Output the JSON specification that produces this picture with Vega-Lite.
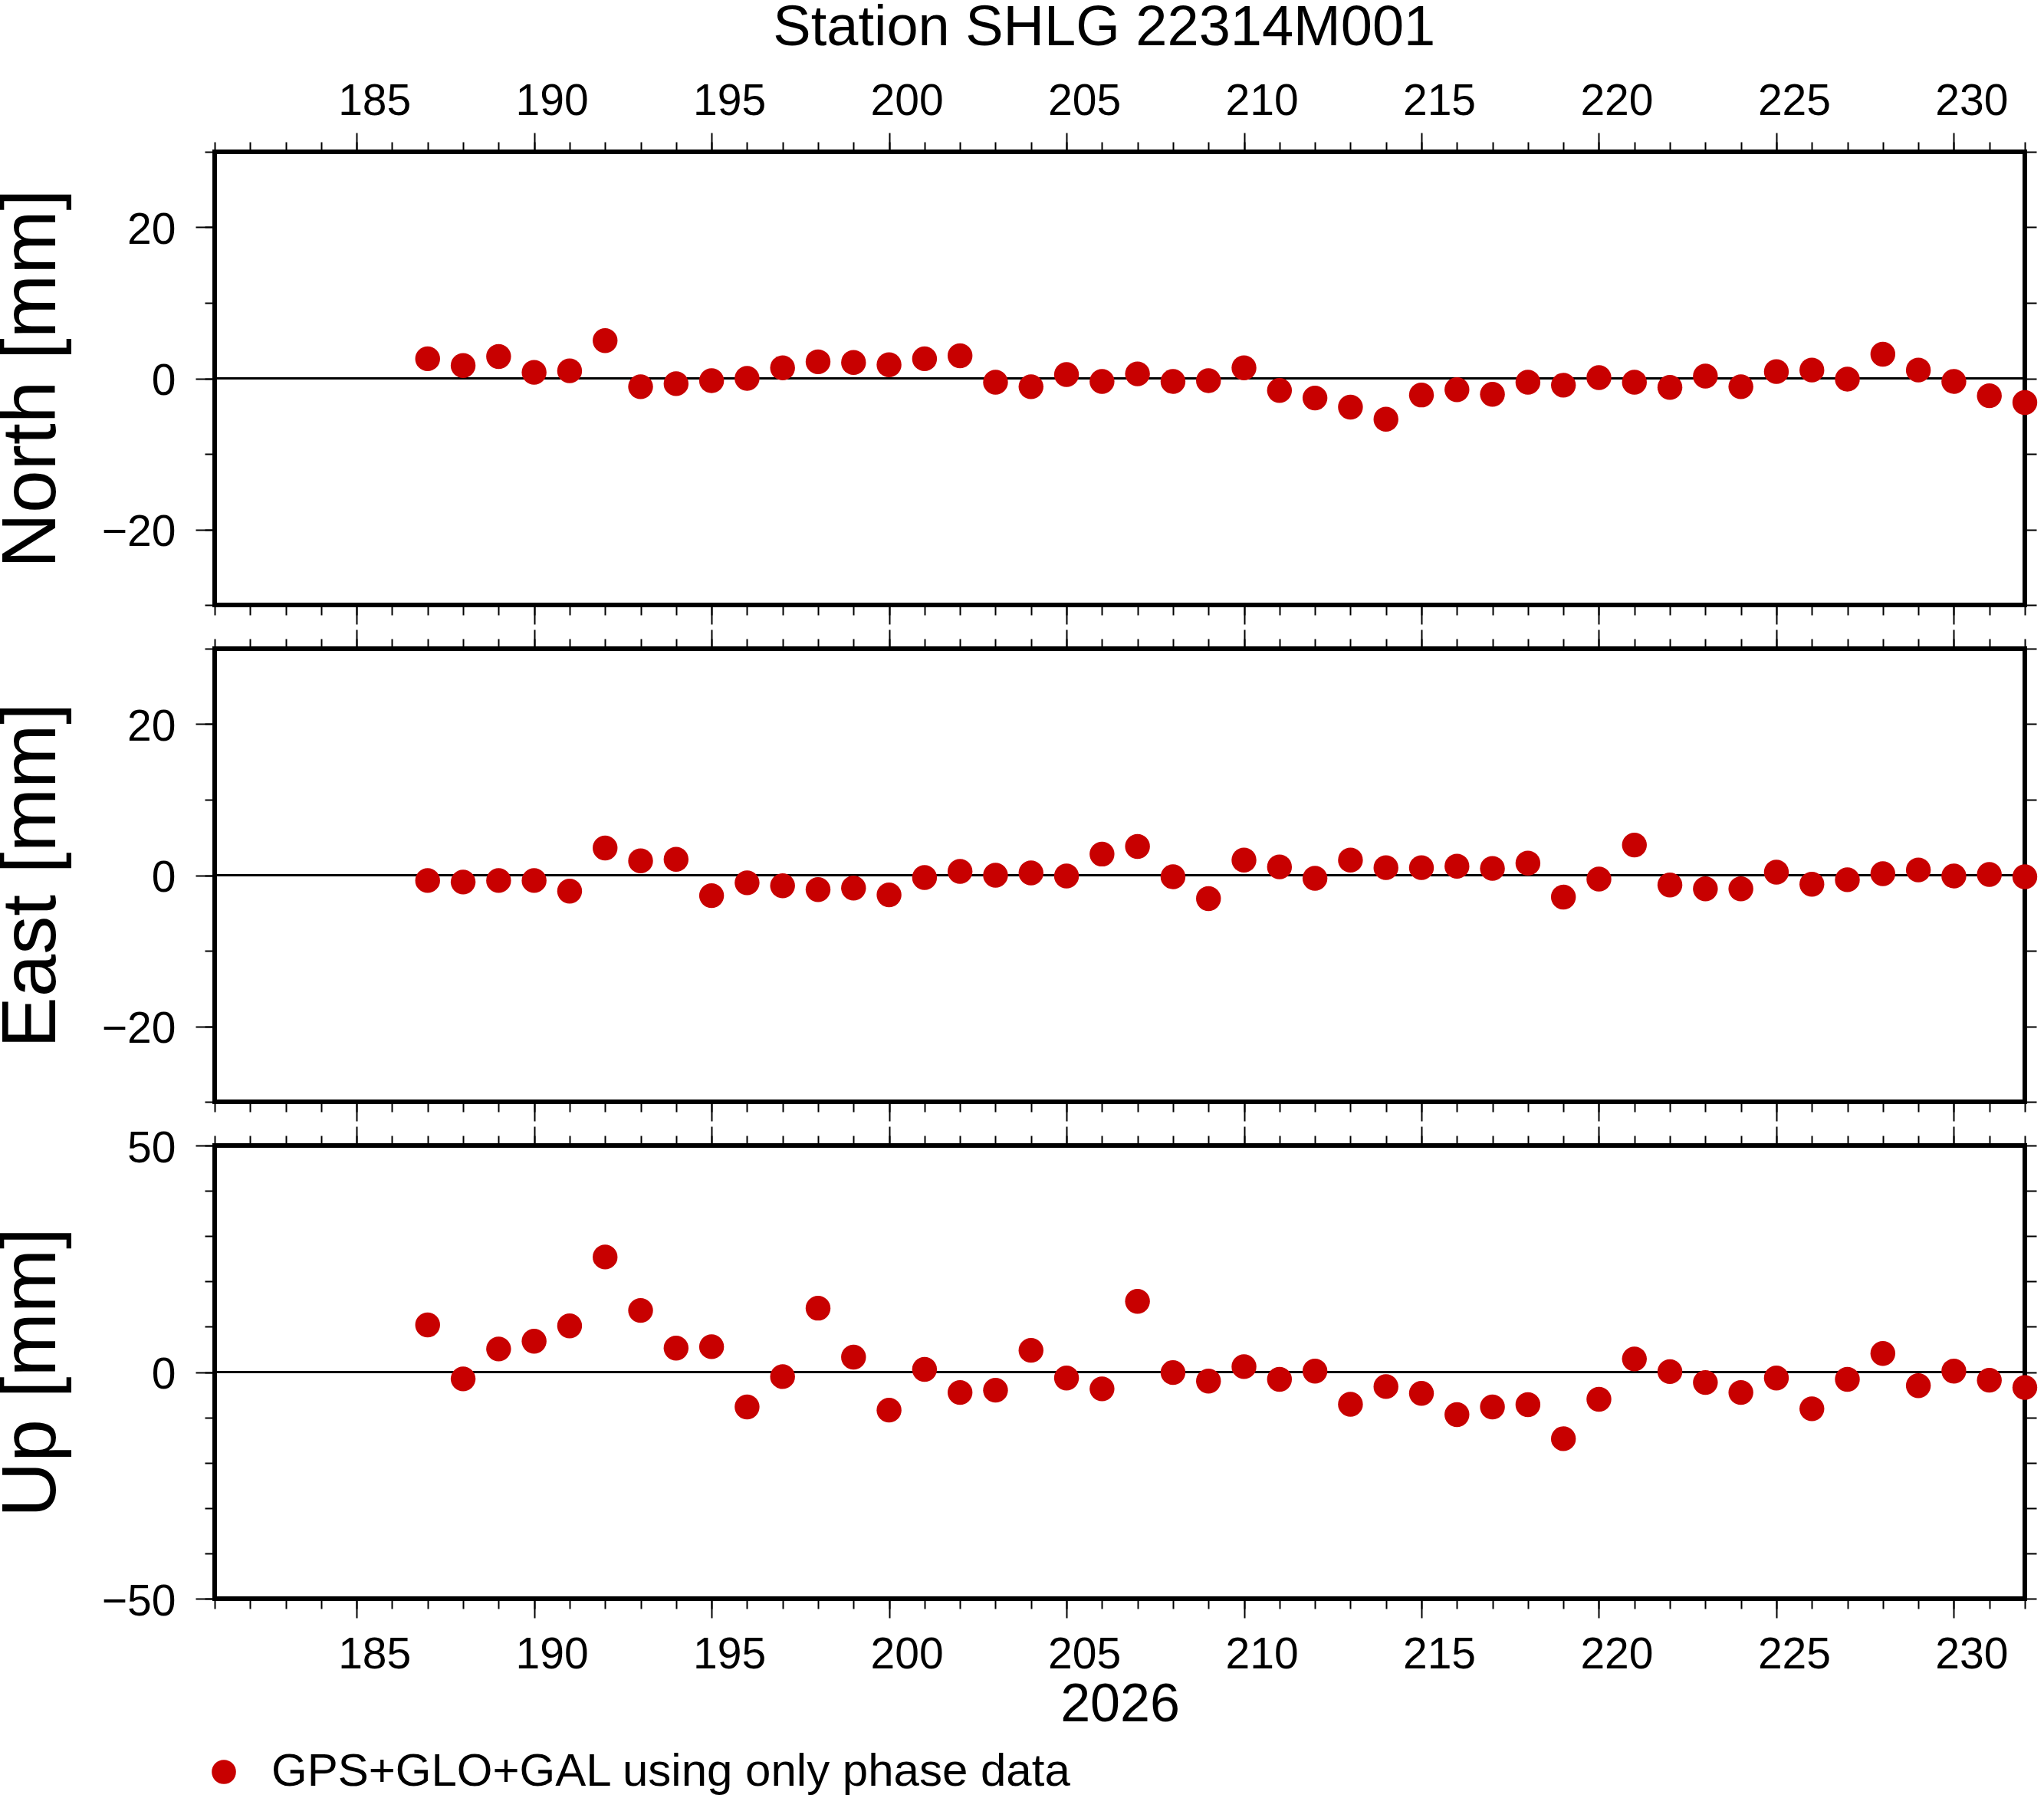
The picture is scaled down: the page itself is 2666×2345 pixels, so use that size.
{
  "$schema": "https://vega.github.io/schema/vega-lite/v6.json",
  "background": "white",
  "padding": {"left": -12, "top": 0, "right": 0, "bottom": 0},
  "title": {"text": "Station SHLG 22314M001", "font": "Liberation Sans", "fontSize": 74, "fontWeight": "normal", "color": "black", "anchor": "middle", "baseline": "alphabetic", "offset": -33, "dx": 116},
  "data": {"values": [
    {"day": 187, "north": 2.6, "east": -0.7, "up": 10.4},
    {"day": 188, "north": 1.7, "east": -0.9, "up": -1.5},
    {"day": 189, "north": 2.9, "east": -0.7, "up": 5.1},
    {"day": 190, "north": 0.8, "east": -0.7, "up": 6.8},
    {"day": 191, "north": 1.0, "east": -2.1, "up": 10.2},
    {"day": 192, "north": 5.0, "east": 3.6, "up": 25.4},
    {"day": 193, "north": -1.1, "east": 1.9, "up": 13.6},
    {"day": 194, "north": -0.7, "east": 2.1, "up": 5.3},
    {"day": 195, "north": -0.3, "east": -2.7, "up": 5.6},
    {"day": 196, "north": 0.0, "east": -1.0, "up": -7.7},
    {"day": 197, "north": 1.4, "east": -1.4, "up": -1.0},
    {"day": 198, "north": 2.2, "east": -1.9, "up": 14.1},
    {"day": 199, "north": 2.1, "east": -1.7, "up": 3.3},
    {"day": 200, "north": 1.8, "east": -2.6, "up": -8.4},
    {"day": 201, "north": 2.6, "east": -0.3, "up": 0.6},
    {"day": 202, "north": 3.0, "east": 0.5, "up": -4.5},
    {"day": 203, "north": -0.5, "east": 0.0, "up": -4.0},
    {"day": 204, "north": -1.1, "east": 0.3, "up": 4.8},
    {"day": 205, "north": 0.5, "east": -0.1, "up": -1.3},
    {"day": 206, "north": -0.4, "east": 2.8, "up": -3.7},
    {"day": 207, "north": 0.6, "east": 3.8, "up": 15.6},
    {"day": 208, "north": -0.4, "east": -0.2, "up": -0.1},
    {"day": 209, "north": -0.3, "east": -3.1, "up": -2.0},
    {"day": 210, "north": 1.4, "east": 2.0, "up": 1.2},
    {"day": 211, "north": -1.6, "east": 1.1, "up": -1.6},
    {"day": 212, "north": -2.6, "east": -0.4, "up": 0.2},
    {"day": 213, "north": -3.8, "east": 2.0, "up": -7.1},
    {"day": 214, "north": -5.4, "east": 1.0, "up": -3.2},
    {"day": 215, "north": -2.2, "east": 1.0, "up": -4.7},
    {"day": 216, "north": -1.5, "east": 1.2, "up": -9.4},
    {"day": 217, "north": -2.1, "east": 0.9, "up": -7.7},
    {"day": 218, "north": -0.5, "east": 1.6, "up": -7.2},
    {"day": 219, "north": -0.9, "east": -2.9, "up": -14.7},
    {"day": 220, "north": 0.1, "east": -0.5, "up": -6.0},
    {"day": 221, "north": -0.5, "east": 4.0, "up": 2.9},
    {"day": 222, "north": -1.2, "east": -1.3, "up": 0.1},
    {"day": 223, "north": 0.3, "east": -1.8, "up": -2.3},
    {"day": 224, "north": -1.1, "east": -1.8, "up": -4.5},
    {"day": 225, "north": 0.9, "east": 0.4, "up": -1.3},
    {"day": 226, "north": 1.1, "east": -1.2, "up": -8.1},
    {"day": 227, "north": -0.1, "east": -0.6, "up": -1.6},
    {"day": 228, "north": 3.2, "east": 0.2, "up": 4.1},
    {"day": 229, "north": 1.1, "east": 0.7, "up": -3.0},
    {"day": 230, "north": -0.4, "east": -0.1, "up": 0.2},
    {"day": 231, "north": -2.3, "east": 0.1, "up": -1.8},
    {"day": 232, "north": -3.2, "east": -0.2, "up": -3.4}
  ]},
  "bounds": "flush",
  "spacing": 57,
  "vconcat": [
    {
      "width": 2361,
      "height": 591,
      "resolve": {"axis": {"x": "independent", "y": "independent"}},
      "layer": [
        {
          "mark": {"type": "rule", "color": "black", "strokeWidth": 1.5},
          "encoding": {"y": {"datum": 0, "type": "quantitative", "scale": {"domain": [-30, 30], "nice": false}, "axis": null}}
        },
        {
          "mark": {"type": "point", "filled": true, "size": 1050, "opacity": 1, "strokeWidth": 0},
          "encoding": {
            "x": {"field": "day", "type": "quantitative", "scale": {"domain": [181, 232], "nice": false, "zero": false},
              "axis": {"orient": "bottom", "values": [185, 190, 195, 200, 205, 210, 215, 220, 225, 230], "tickSize": 25, "labels": false, "title": null}},
            "y": {"field": "north", "type": "quantitative", "scale": {"domain": [-30, 30], "nice": false},
              "axis": {"orient": "left", "values": [-20, 0, 20], "tickSize": 25, "labelPadding": 26, "labelOffset": 4, "title": "North [mm]", "titleFontSize": 100, "titlePadding": 40}},
            "color": {"datum": "GPS+GLO+GAL using only phase data", "scale": {"range": ["#c80000"]}, "legend": {"title": null}}
          }
        },
        {
          "mark": {"type": "point", "opacity": 0},
          "encoding": {
            "x": {"field": "day", "type": "quantitative", "scale": {"domain": [181, 232], "nice": false, "zero": false},
              "axis": {"orient": "bottom", "values": [181,182,183,184,185,186,187,188,189,190,191,192,193,194,195,196,197,198,199,200,201,202,203,204,205,206,207,208,209,210,211,212,213,214,215,216,217,218,219,220,221,222,223,224,225,226,227,228,229,230,231,232], "tickSize": 13, "labels": false, "title": null}},
            "y": {"field": "north", "type": "quantitative", "scale": {"domain": [-30, 30], "nice": false},
              "axis": {"orient": "left", "values": [-30, -20, -10, 0, 10, 20, 30], "tickSize": 13, "labels": false, "title": null}}
          }
        },
        {
          "mark": {"type": "point", "opacity": 0},
          "encoding": {
            "x": {"field": "day", "type": "quantitative", "scale": {"domain": [181, 232], "nice": false, "zero": false},
              "axis": {"orient": "top", "values": [185, 190, 195, 200, 205, 210, 215, 220, 225, 230], "tickSize": 25, "labelPadding": 12, "labelOffset": 23, "title": null}},
            "y": {"field": "north", "type": "quantitative", "scale": {"domain": [-30, 30], "nice": false},
              "axis": {"orient": "right", "values": [-30, -20, -10, 0, 10, 20, 30], "tickSize": 15, "labels": false, "title": null}}
          }
        },
        {
          "mark": {"type": "point", "opacity": 0},
          "encoding": {
            "x": {"field": "day", "type": "quantitative", "scale": {"domain": [181, 232], "nice": false, "zero": false},
              "axis": {"orient": "top", "values": [181,182,183,184,185,186,187,188,189,190,191,192,193,194,195,196,197,198,199,200,201,202,203,204,205,206,207,208,209,210,211,212,213,214,215,216,217,218,219,220,221,222,223,224,225,226,227,228,229,230,231,232], "tickSize": 13, "labels": false, "title": null}},
            "y": {"field": "north", "type": "quantitative", "scale": {"domain": [-30, 30], "nice": false}, "axis": null}
          }
        }
      ]
    },
    {
      "width": 2361,
      "height": 591,
      "resolve": {"axis": {"x": "independent", "y": "independent"}},
      "layer": [
        {
          "mark": {"type": "rule", "color": "black", "strokeWidth": 1.5},
          "encoding": {"y": {"datum": 0, "type": "quantitative", "scale": {"domain": [-30, 30], "nice": false}, "axis": null}}
        },
        {
          "mark": {"type": "point", "filled": true, "size": 1050, "opacity": 1, "strokeWidth": 0},
          "encoding": {
            "x": {"field": "day", "type": "quantitative", "scale": {"domain": [181, 232], "nice": false, "zero": false},
              "axis": {"orient": "bottom", "values": [185, 190, 195, 200, 205, 210, 215, 220, 225, 230], "tickSize": 25, "labels": false, "title": null}},
            "y": {"field": "east", "type": "quantitative", "scale": {"domain": [-30, 30], "nice": false},
              "axis": {"orient": "left", "values": [-20, 0, 20], "tickSize": 25, "labelPadding": 26, "labelOffset": 4, "title": "East [mm]", "titleFontSize": 100, "titlePadding": 40}},
            "color": {"datum": "GPS+GLO+GAL using only phase data", "scale": {"range": ["#c80000"]}, "legend": {"title": null}}
          }
        },
        {
          "mark": {"type": "point", "opacity": 0},
          "encoding": {
            "x": {"field": "day", "type": "quantitative", "scale": {"domain": [181, 232], "nice": false, "zero": false},
              "axis": {"orient": "bottom", "values": [181,182,183,184,185,186,187,188,189,190,191,192,193,194,195,196,197,198,199,200,201,202,203,204,205,206,207,208,209,210,211,212,213,214,215,216,217,218,219,220,221,222,223,224,225,226,227,228,229,230,231,232], "tickSize": 13, "labels": false, "title": null}},
            "y": {"field": "east", "type": "quantitative", "scale": {"domain": [-30, 30], "nice": false},
              "axis": {"orient": "left", "values": [-30, -20, -10, 0, 10, 20, 30], "tickSize": 13, "labels": false, "title": null}}
          }
        },
        {
          "mark": {"type": "point", "opacity": 0},
          "encoding": {
            "x": {"field": "day", "type": "quantitative", "scale": {"domain": [181, 232], "nice": false, "zero": false},
              "axis": {"orient": "top", "values": [185, 190, 195, 200, 205, 210, 215, 220, 225, 230], "tickSize": 25, "labels": false, "title": null}},
            "y": {"field": "east", "type": "quantitative", "scale": {"domain": [-30, 30], "nice": false},
              "axis": {"orient": "right", "values": [-30, -20, -10, 0, 10, 20, 30], "tickSize": 15, "labels": false, "title": null}}
          }
        },
        {
          "mark": {"type": "point", "opacity": 0},
          "encoding": {
            "x": {"field": "day", "type": "quantitative", "scale": {"domain": [181, 232], "nice": false, "zero": false},
              "axis": {"orient": "top", "values": [181,182,183,184,185,186,187,188,189,190,191,192,193,194,195,196,197,198,199,200,201,202,203,204,205,206,207,208,209,210,211,212,213,214,215,216,217,218,219,220,221,222,223,224,225,226,227,228,229,230,231,232], "tickSize": 13, "labels": false, "title": null}},
            "y": {"field": "east", "type": "quantitative", "scale": {"domain": [-30, 30], "nice": false}, "axis": null}
          }
        }
      ]
    },
    {
      "width": 2361,
      "height": 591,
      "resolve": {"axis": {"x": "independent", "y": "independent"}},
      "layer": [
        {
          "mark": {"type": "rule", "color": "black", "strokeWidth": 1.5},
          "encoding": {"y": {"datum": 0, "type": "quantitative", "scale": {"domain": [-50, 50], "nice": false}, "axis": null}}
        },
        {
          "mark": {"type": "point", "filled": true, "size": 1050, "opacity": 1, "strokeWidth": 0},
          "encoding": {
            "x": {"field": "day", "type": "quantitative", "scale": {"domain": [181, 232], "nice": false, "zero": false},
              "axis": {"orient": "bottom", "values": [185, 190, 195, 200, 205, 210, 215, 220, 225, 230], "tickSize": 25, "labelPadding": 20, "labelOffset": 23, "title": "2026", "titleFontSize": 70, "titlePadding": 3}},
            "y": {"field": "up", "type": "quantitative", "scale": {"domain": [-50, 50], "nice": false},
              "axis": {"orient": "left", "values": [-50, 0, 50], "tickSize": 25, "labelPadding": 26, "labelOffset": 4, "title": "Up [mm]", "titleFontSize": 100, "titlePadding": 40}},
            "color": {"datum": "GPS+GLO+GAL using only phase data", "scale": {"range": ["#c80000"]}, "legend": {"title": null}}
          }
        },
        {
          "mark": {"type": "point", "opacity": 0},
          "encoding": {
            "x": {"field": "day", "type": "quantitative", "scale": {"domain": [181, 232], "nice": false, "zero": false},
              "axis": {"orient": "bottom", "values": [181,182,183,184,185,186,187,188,189,190,191,192,193,194,195,196,197,198,199,200,201,202,203,204,205,206,207,208,209,210,211,212,213,214,215,216,217,218,219,220,221,222,223,224,225,226,227,228,229,230,231,232], "tickSize": 13, "labels": false, "title": null}},
            "y": {"field": "up", "type": "quantitative", "scale": {"domain": [-50, 50], "nice": false},
              "axis": {"orient": "left", "values": [-50, -40, -30, -20, -10, 0, 10, 20, 30, 40, 50], "tickSize": 13, "labels": false, "title": null}}
          }
        },
        {
          "mark": {"type": "point", "opacity": 0},
          "encoding": {
            "x": {"field": "day", "type": "quantitative", "scale": {"domain": [181, 232], "nice": false, "zero": false},
              "axis": {"orient": "top", "values": [185, 190, 195, 200, 205, 210, 215, 220, 225, 230], "tickSize": 25, "labels": false, "title": null}},
            "y": {"field": "up", "type": "quantitative", "scale": {"domain": [-50, 50], "nice": false},
              "axis": {"orient": "right", "values": [-50, -40, -30, -20, -10, 0, 10, 20, 30, 40, 50], "tickSize": 15, "labels": false, "title": null}}
          }
        },
        {
          "mark": {"type": "point", "opacity": 0},
          "encoding": {
            "x": {"field": "day", "type": "quantitative", "scale": {"domain": [181, 232], "nice": false, "zero": false},
              "axis": {"orient": "top", "values": [181,182,183,184,185,186,187,188,189,190,191,192,193,194,195,196,197,198,199,200,201,202,203,204,205,206,207,208,209,210,211,212,213,214,215,216,217,218,219,220,221,222,223,224,225,226,227,228,229,230,231,232], "tickSize": 13, "labels": false, "title": null}},
            "y": {"field": "up", "type": "quantitative", "scale": {"domain": [-50, 50], "nice": false}, "axis": null}
          }
        }
      ]
    }
  ],
  "config": {
    "font": "Liberation Sans",
    "view": {"stroke": "black", "strokeWidth": 6},
    "axis": {"grid": false, "domain": false, "tickColor": "black", "tickWidth": 2, "labelFont": "Liberation Sans", "labelFontSize": 57, "labelColor": "black", "titleFont": "Liberation Sans", "titleFontWeight": "normal", "titleColor": "black", "labelFlush": false, "labelOverlap": false, "labelBound": false},
    "legend": {"orient": "bottom", "direction": "horizontal", "symbolType": "circle", "symbolSize": 1000, "symbolStrokeWidth": 0, "symbolOffset": -18, "labelFont": "Liberation Sans", "labelFontSize": 60, "labelColor": "black", "labelOffset": 32, "offset": 20, "padding": 0, "labelLimit": 2000}
  }
}
